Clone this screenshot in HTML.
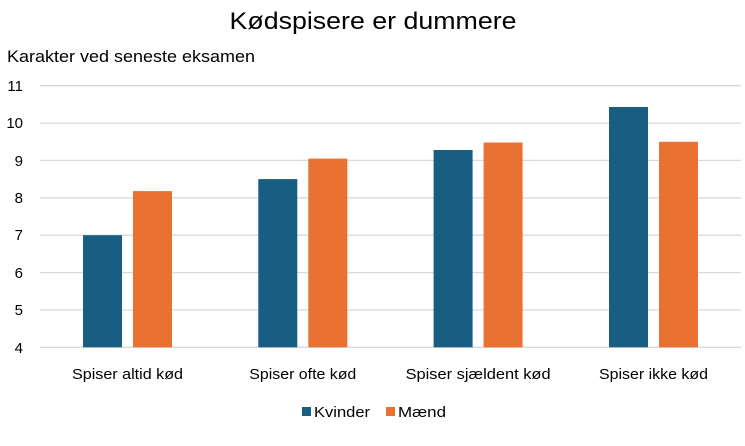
<!DOCTYPE html>
<html><head><meta charset="utf-8"><style>body{margin:0;background:#fff}svg{display:block}</style></head>
<body>
<svg width="745" height="446" xmlns="http://www.w3.org/2000/svg" font-family="'Liberation Sans', sans-serif" fill="#000">
<rect width="745" height="446" fill="#fff"/>
<text x="373" y="29" font-size="24" text-anchor="middle" textLength="287" lengthAdjust="spacingAndGlyphs">Kødspisere er dummere</text>
<text x="7" y="62" font-size="17" textLength="248" lengthAdjust="spacingAndGlyphs">Karakter ved seneste eksamen</text>
<g stroke="#d9d9d9" stroke-width="1.3">
<line x1="40" x2="741" y1="85.7" y2="85.7"/>
<line x1="40" x2="741" y1="123.1" y2="123.1"/>
<line x1="40" x2="741" y1="160.4" y2="160.4"/>
<line x1="40" x2="741" y1="197.8" y2="197.8"/>
<line x1="40" x2="741" y1="235.2" y2="235.2"/>
<line x1="40" x2="741" y1="272.6" y2="272.6"/>
<line x1="40" x2="741" y1="309.9" y2="309.9"/>
<line x1="40" x2="741" y1="347.3" y2="347.3"/>
</g>
<g font-size="15" text-anchor="end">
<text x="23" y="91">11</text><text x="23" y="128">10</text><text x="23" y="166">9</text><text x="23" y="203">8</text>
<text x="23" y="240">7</text><text x="23" y="278">6</text><text x="23" y="315">5</text><text x="23" y="353">4</text>
</g>
<g fill="#175e82">
<rect x="83" y="235.2" width="39" height="112.1"/>
<rect x="258.3" y="179.1" width="39" height="168.2"/>
<rect x="433.6" y="150.0" width="39" height="197.3"/>
<rect x="609" y="107.0" width="39" height="240.3"/>
</g>
<g fill="#e97132">
<rect x="133" y="191.1" width="39" height="156.2"/>
<rect x="308.3" y="158.6" width="39" height="188.7"/>
<rect x="483.6" y="142.5" width="39" height="204.8"/>
<rect x="659" y="141.8" width="39" height="205.5"/>
</g>
<g font-size="15" text-anchor="middle">
<text x="127.5" y="379" textLength="111" lengthAdjust="spacingAndGlyphs">Spiser altid kød</text>
<text x="302.8" y="379" textLength="107" lengthAdjust="spacingAndGlyphs">Spiser ofte kød</text>
<text x="478.1" y="379" textLength="145" lengthAdjust="spacingAndGlyphs">Spiser sjældent kød</text>
<text x="653.5" y="379" textLength="109" lengthAdjust="spacingAndGlyphs">Spiser ikke kød</text>
</g>
<rect x="302" y="407" width="9" height="9" fill="#175e82"/>
<text x="314" y="417" font-size="15" textLength="56" lengthAdjust="spacingAndGlyphs">Kvinder</text>
<rect x="386" y="407" width="9" height="9" fill="#e97132"/>
<text x="398" y="417" font-size="15" textLength="48" lengthAdjust="spacingAndGlyphs">Mænd</text>
</svg>
</body></html>
